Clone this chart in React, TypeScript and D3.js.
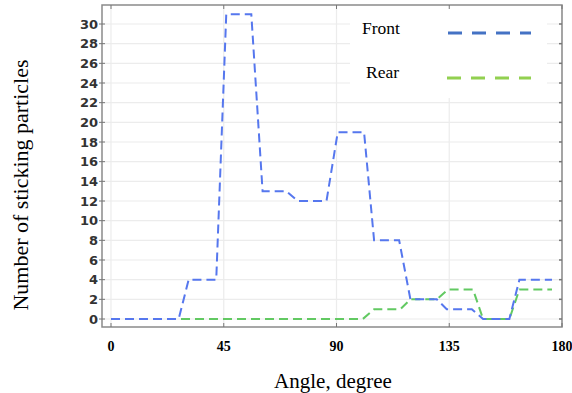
import React from "react";
import * as d3 from "d3";

const angles = [0, 45, 90, 135, 180];
const yTicks = d3.range(0, 31, 2);

const frontAngle = [0, 27, 31, 42, 46, 56, 60.5, 70, 74.5, 86, 90.5, 101, 105, 115, 119.5, 130, 134, 144, 148.5, 159, 163, 176];
const frontValue = [0, 0, 4, 4, 31, 31, 13, 13, 12, 12, 19, 19, 8, 8, 2, 2, 1, 1, 0, 0, 4, 4];

const rearAngle = [0, 100.5, 105, 115.5, 119.5, 130, 134.5, 144.5, 148.5, 159, 163, 176];
const rearValue = [0, 0, 1, 1, 2, 2, 3, 3, 0, 0, 3, 3];

const legendLabels = ["Front", "Rear"];

const W = 572, H = 393;
const left = 102, right = 562, top = 5, bottom = 327;

export default function App() {
  const x = d3.scaleLinear().domain([0, 180]).range([111, 562]);
  const y = d3.scaleLinear().domain([0, 30]).range([319, 24]);
  const line = d3.line<[number, number]>().x(d => x(d[0])).y(d => y(d[1]));
  const front = frontAngle.map((a, i) => [a, frontValue[i]] as [number, number]);
  const rear = rear_build();
  function rear_build() {
    return rearAngle.map((a, i) => [a, rearValue[i]] as [number, number]);
  }

  return (
    <svg width={W} height={H} style={{ position: "absolute", left: 0, top: 0, background: "#fff" }}>
      <rect x={0} y={0} width={W} height={H} fill="#fff" />
      {yTicks.map(t => (
        <line key={"gy" + t} x1={left} x2={right} y1={y(t)} y2={y(t)} stroke="#ececec" strokeWidth={1.2} />
      ))}
      {angles.map(a => (
        <line key={"gx" + a} x1={x(a)} x2={x(a)} y1={top} y2={bottom} stroke="#ececec" strokeWidth={1.2} />
      ))}
      <rect x={350} y={top + 1} width={197} height={92} fill="#fff" />
      <rect x={left} y={top} width={right - left} height={bottom - top} fill="none" stroke="#8a8a8a" strokeWidth={1.5} />
      {yTicks.map(t => (
        <g key={"ty" + t}>
          <line x1={left - 3} x2={left + 3} y1={y(t)} y2={y(t)} stroke="#777" strokeWidth={1} />
          <line x1={right - 3} x2={right} y1={y(t)} y2={y(t)} stroke="#777" strokeWidth={1.5} />
          <text x={98} y={y(t)} dy="0.36em" textAnchor="end" fontFamily="DejaVu Sans, sans-serif" fontWeight="bold" fontSize={13} fill="#333">{t}</text>
        </g>
      ))}
      {angles.map(a => (
        <g key={"tx" + a}>
          <line x1={x(a)} x2={x(a)} y1={bottom} y2={bottom - 4} stroke="#777" strokeWidth={1} />
          <line x1={x(a)} x2={x(a)} y1={top} y2={top + 4} stroke="#777" strokeWidth={1} />
          <text x={x(a)} y={351} textAnchor="middle" fontFamily="Liberation Serif, serif" fontWeight="bold" fontSize={14} fill="#000">{a}</text>
        </g>
      ))}
      <path d={line(rear) || ""} fill="none" stroke="#62c962" strokeWidth={2} strokeDasharray="9,5" />
      <path d={line(front) || ""} fill="none" stroke="#5677ee" strokeWidth={2} strokeDasharray="9,5" />
      <text x={362} y={34} fontFamily="Liberation Serif, serif" fontSize={17.5} fill="#000">{legendLabels[0]}</text>
      <line x1={448} x2={531} y1={33} y2={33} stroke="#4472c4" strokeWidth={3} strokeDasharray="14,10" />
      <text x={366} y={78} fontFamily="Liberation Serif, serif" fontSize={17.5} fill="#000">{legendLabels[1]}</text>
      <line x1={447} x2={531} y1={78} y2={78} stroke="#92d050" strokeWidth={3} strokeDasharray="14,10" />
      <text x={333} y={388} textAnchor="middle" fontFamily="Liberation Serif, serif" fontSize={21} fill="#000">Angle, degree</text>
      <text transform="translate(28,185) rotate(-90)" textAnchor="middle" fontFamily="Liberation Serif, serif" fontSize={22} fill="#000">Number of sticking particles</text>
    </svg>
  );
}
